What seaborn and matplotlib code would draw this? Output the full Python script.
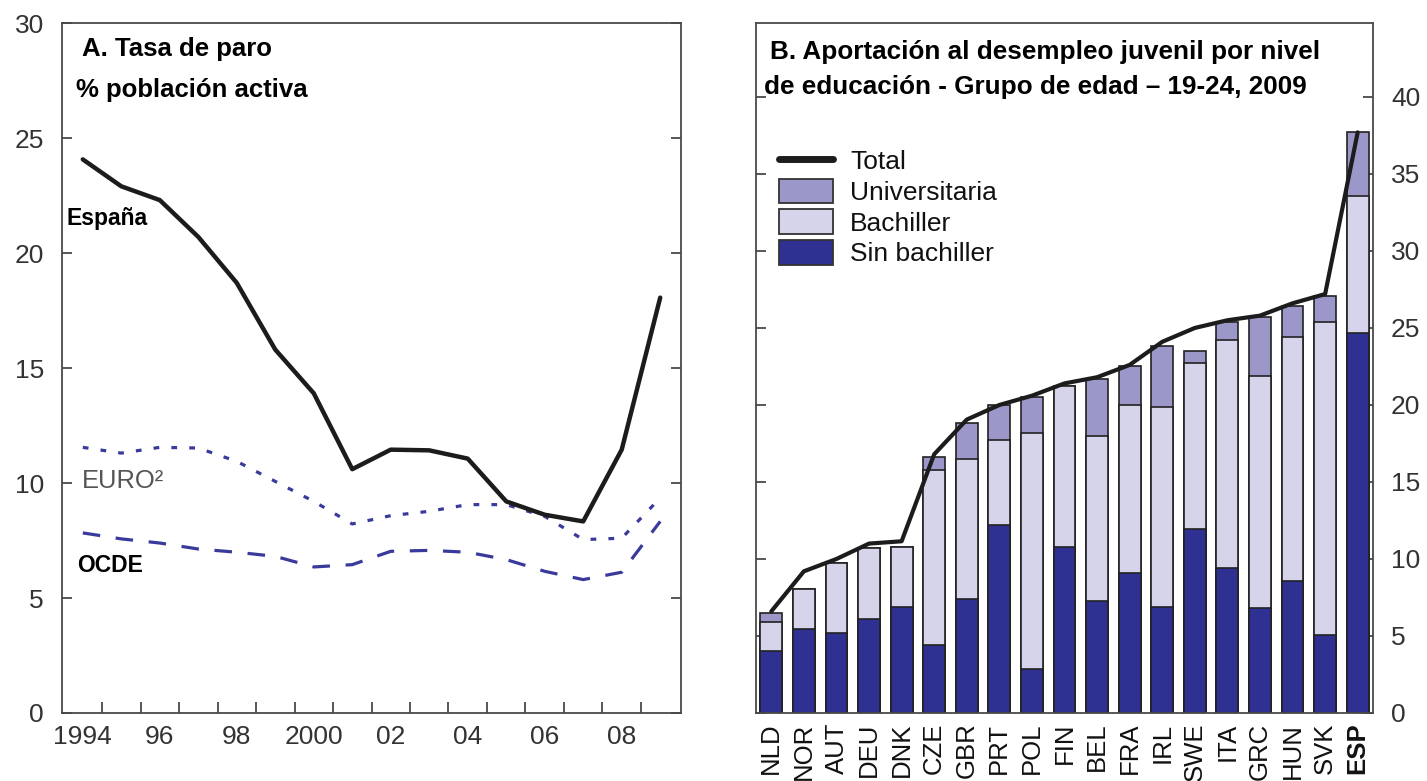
import numpy as np
import pandas as pd
import matplotlib
matplotlib.use("Agg")
import matplotlib.pyplot as plt
import seaborn as sns
from matplotlib.lines import Line2D
from matplotlib.patches import Patch

# ---------------- data ----------------
years = list(range(1994, 2010))
espana = [24.07, 22.9, 22.3, 20.7, 18.7, 15.8, 13.9, 10.6, 11.45, 11.42, 11.06, 9.2, 8.62, 8.33, 11.45, 18.06]
euro = [11.55, 11.3, 11.55, 11.52, 10.94, 10.07, 9.2, 8.22, 8.58, 8.77, 9.06, 9.06, 8.55, 7.54, 7.6, 9.35]
ocde = [7.83, 7.57, 7.39, 7.13, 6.99, 6.81, 6.35, 6.45, 7.03, 7.07, 6.99, 6.67, 6.16, 5.8, 6.12, 8.33]
year_labels = ["1994", "96", "98", "2000", "02", "04", "06", "08"]
year_label_pos = [1994, 1996, 1998, 2000, 2002, 2004, 2006, 2008]

countries = ["NLD", "NOR", "AUT", "DEU", "DNK", "CZE", "GBR", "PRT", "POL", "FIN",
             "BEL", "FRA", "IRL", "SWE", "ITA", "GRC", "HUN", "SVK", "ESP"]
sin_bachiller = [4.0, 5.45, 5.2, 6.1, 6.9, 4.4, 7.4, 12.2, 2.86, 10.8,
                 7.3, 9.1, 6.9, 11.95, 9.4, 6.8, 8.6, 5.06, 24.65]
bachiller = [1.9, 2.6, 4.54, 4.6, 3.9, 11.4, 9.1, 5.5, 15.34, 10.4,
             10.7, 10.9, 12.95, 10.75, 14.8, 15.1, 15.8, 20.34, 8.95]
universitaria = [0.6, 0.0, 0.0, 0.0, 0.0, 0.8, 2.3, 2.3, 2.3, 0.0,
                 3.7, 2.5, 3.95, 0.8, 1.2, 3.8, 2.0, 1.7, 4.1]
total = [6.6, 9.2, 10.0, 11.0, 11.15, 16.8, 19.05, 20.0, 20.6, 21.4,
         21.8, 22.6, 24.1, 25.0, 25.5, 25.8, 26.6, 27.2, 37.7]

# ---------------- style ----------------
sns.set_theme(style="white")
plt.rcParams["font.family"] = ["Liberation Sans", "DejaVu Sans"]

W, H = 1427, 781
fig = plt.figure(figsize=(W / 100, H / 100), dpi=100)
fig.patch.set_facecolor("white")

def px_axes(x0, x1, y0, y1):
    return fig.add_axes([x0 / W, 1 - y1 / H, (x1 - x0) / W, (y1 - y0) / H])

ax1 = px_axes(62, 681, 23, 713)
ax2 = px_axes(756, 1373, 23, 713)

spine_col = "#4a4a4a"
tick_txt = "#333333"
blue_line = "#3a3a9c"
c_sin = "#2f3192"
c_bach = "#d5d4ea"
c_univ = "#9b98c9"

for ax in (ax1, ax2):
    ax.set_facecolor("white")
    for s in ax.spines.values():
        s.set_visible(True)
        s.set_color(spine_col)
        s.set_linewidth(1.3)

# ---------------- panel A ----------------
df = pd.DataFrame({"year": years, "España": espana, "EURO": euro, "OCDE": ocde})
sns.lineplot(data=df, x="year", y="OCDE", ax=ax1, color=blue_line, lw=2.3)
ax1.lines[-1].set_dashes((5.5, 4.9))
sns.lineplot(data=df, x="year", y="EURO", ax=ax1, color=blue_line, lw=2.3)
ax1.lines[-1].set_dashes((1.8, 3.8))
sns.lineplot(data=df, x="year", y="España", ax=ax1, color="#1c1c1c", lw=3.2)

ax1.set_xlim(1993.46, 2009.54)
ax1.set_ylim(0, 30)
ax1.set_xlabel("")
ax1.set_ylabel("")
ax1.set_yticks(np.arange(0, 31, 5))
ax1.set_yticklabels([str(v) for v in range(0, 31, 5)])
ax1.set_xticks(np.arange(1994.5, 2009, 1))
ax1.set_xticklabels([])
ax1.set_xticks(year_label_pos, minor=True)
ax1.set_xticklabels(year_labels, minor=True)
ax1.tick_params(axis="x", which="major", direction="in", length=8, width=1.3,
                color=spine_col, bottom=True, top=False)
ax1.tick_params(axis="x", which="minor", length=0, pad=9, labelsize=19,
                labelcolor=tick_txt, bottom=True)
ax1.tick_params(axis="y", which="major", direction="in", length=7, width=1.3,
                color=spine_col, left=True, right=True, labelsize=19,
                labelcolor=tick_txt, pad=13)

def ftext(x, y, s, **kw):
    return fig.text(x / W, 1 - y / H, s, ha="left", va="baseline", **kw)

ftext(82, 56, "A. Tasa de paro", fontsize=18.5, fontweight="bold", color="black")
ftext(76, 97, "% población activa", fontsize=18.5, fontweight="bold", color="black")

ftext(67, 225, "España", fontsize=16.5, fontweight="bold", color="black", zorder=5,
      bbox=dict(facecolor="white", edgecolor="none", pad=3))
ftext(77, 572, "OCDE", fontsize=16.5, fontweight="bold", color="black", zorder=5,
      bbox=dict(facecolor="white", edgecolor="none", pad=3))
ftext(82, 488, "EURO²", fontsize=18.4, color="#555555", zorder=5)

# ---------------- panel B ----------------
x = np.arange(len(countries))
bach_top = np.array(sin_bachiller) + np.array(bachiller)
univ_top = bach_top + np.array(universitaria)
bar_kw = dict(width=0.67, edgecolor="#222222", linewidth=1.2, ax=ax2, saturation=1)
sns.barplot(x=countries, y=univ_top, color=c_univ, **bar_kw)
sns.barplot(x=countries, y=bach_top, color=c_bach, **bar_kw)
sns.barplot(x=countries, y=sin_bachiller, color=c_sin, **bar_kw)
sns.lineplot(x=x, y=total, ax=ax2, color="#1c1c1c", lw=3.0, zorder=5, sort=False)

ax2.set_xlim(-0.47, 18.47)
ax2.set_ylim(0, 44.8)
ax2.set_xlabel("")
ax2.set_ylabel("")
ax2.set_yticks(np.arange(0, 41, 5))
ax2.set_yticklabels([str(v) for v in range(0, 41, 5)])
ax2.yaxis.tick_right()
ax2.tick_params(axis="y", which="major", direction="in", length=7, width=1.3,
                color=spine_col, left=True, right=True, labelleft=False,
                labelright=True, labelsize=19, labelcolor=tick_txt, pad=13)
ax2.set_xticks(x)
ax2.set_xticklabels(countries, rotation=90)
ax2.tick_params(axis="x", length=0, pad=7, labelsize=18.5, labelcolor="#111111")
for lab in ax2.get_xticklabels():
    if lab.get_text() == "ESP":
        lab.set_fontweight("bold")

ftext(770, 59, "B. Aportación al desempleo juvenil por nivel", fontsize=18.8,
      fontweight="bold", color="black")
ftext(764, 94, "de educación - Grupo de edad – 19-24, 2009", fontsize=18.8,
      fontweight="bold", color="black")

handles = [
    Line2D([0], [0], color="#1c1c1c", lw=5),
    Patch(facecolor=c_univ, edgecolor="#333333", linewidth=1.3),
    Patch(facecolor=c_bach, edgecolor="#333333", linewidth=1.3),
    Patch(facecolor=c_sin, edgecolor="#333333", linewidth=1.3),
]
labels = ["Total", "Universitaria", "Bachiller", "Sin bachiller"]
leg = ax2.legend(handles, labels, loc="upper left",
                 bbox_to_anchor=((779 - 756) / 617, (713 - 148) / 690),
                 frameon=False, fontsize=19, handlelength=2.05, handleheight=1.05,
                 handletextpad=0.65, labelspacing=0.17, borderpad=0, borderaxespad=0)
for t in leg.get_texts():
    t.set_color("#111111")

fig.savefig("out.png", dpi=100, facecolor="white")
